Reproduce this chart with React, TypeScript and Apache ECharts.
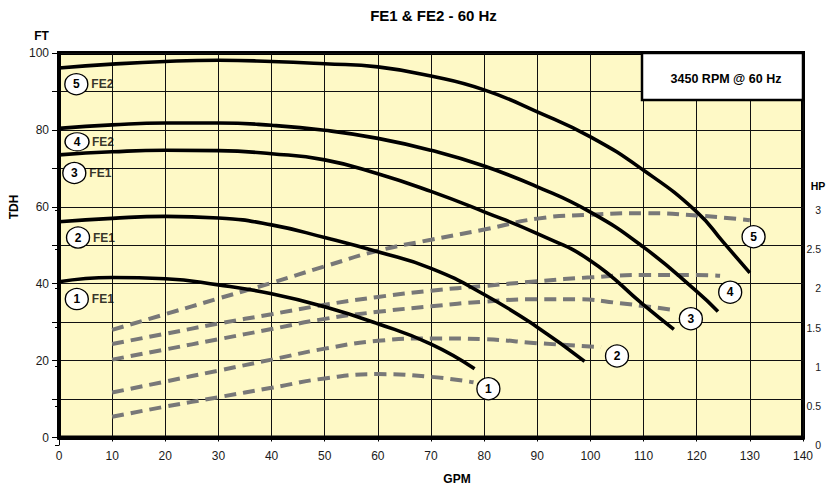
import React, { useEffect, useRef } from 'react';
import * as echarts from 'echarts';

const chartTitle = 'FE1 & FE2 - 60 Hz';
const speedNote = '3450 RPM @ 60 Hz';

// Head curves (GPM, FT)
const head1: [number, number][] = [[0, 40.5], [10, 41.6], [20, 41.3], [30, 39.7], [40, 37.4], [50, 34], [60, 29.6], [70, 24.3], [78.2, 17.9]];
const head2: [number, number][] = [[0, 56.1], [10, 57], [20, 57.5], [30, 57.1], [40, 55.3], [50, 52], [60, 48.3], [70, 44], [80, 37.2], [90, 28.7], [98.9, 19.8]];
const head3: [number, number][] = [[0, 73.5], [10, 74.3], [20, 74.7], [30, 74.6], [40, 73.8], [50, 72.2], [60, 68.6], [70, 64], [80, 58.7], [90, 53], [100, 46], [110, 34.5], [115.7, 28.1]];
const head4: [number, number][] = [[0, 80.4], [10, 81.3], [20, 81.8], [30, 81.8], [40, 81.2], [50, 79.9], [60, 77.8], [70, 74.7], [80, 70.6], [90, 65.2], [100, 58.6], [110, 49.5], [120, 38], [124, 32.8]];
const head5: [number, number][] = [[0, 96.1], [10, 97.1], [20, 97.8], [30, 98.1], [40, 97.8], [50, 97.2], [60, 96.4], [70, 94], [80, 90.4], [90, 84.7], [100, 78.2], [110, 69.5], [120, 58.7], [125, 50.8], [130, 42.8]];

// Power curves (GPM, HP)
const hp1: [number, number][] = [[10, 0.36], [20, 0.49], [30, 0.61], [40, 0.73], [50, 0.85], [60, 0.905], [70, 0.87], [78, 0.8]];
const hp2: [number, number][] = [[10, 0.67], [20, 0.81], [30, 0.95], [40, 1.09], [50, 1.23], [60, 1.33], [70, 1.36], [80, 1.35], [90, 1.3], [102, 1.25]];
const hp3: [number, number][] = [[10, 1.09], [20, 1.22], [30, 1.35], [40, 1.48], [50, 1.61], [60, 1.7], [70, 1.77], [80, 1.83], [90, 1.86], [97.5, 1.86], [105.6, 1.81], [115, 1.73]];
const hp4: [number, number][] = [[10, 1.29], [20, 1.42], [30, 1.55], [40, 1.67], [50, 1.79], [60, 1.89], [70, 1.97], [80, 2.03], [90, 2.09], [100, 2.14], [110, 2.17], [120, 2.17], [124.4, 2.16]];
const hp5: [number, number][] = [[10, 1.47], [20, 1.67], [30, 1.87], [40, 2.07], [50, 2.28], [60, 2.48], [70, 2.62], [80, 2.75], [90, 2.89], [100, 2.94], [110, 2.96], [120, 2.93], [130, 2.87]];

const curveNumbers = ['1', '2', '3', '4', '5'];
const models = ['FE1', 'FE1', 'FE1', 'FE2', 'FE2'];
// label anchors in chart units (GPM, FT)
const leftTagAt: [number, number][] = [[3.35, 36.0], [3.58, 52.0], [2.88, 68.8], [3.39, 76.9], [3.26, 91.9]];
const rightTagAt: [number, number][] = [[80.8, 12.7], [105.0, 21.2], [118.9, 30.9], [126.3, 37.8], [130.7, 52.2]];

const gpmMin = 0, gpmMax = 140, gpmStep = 10;
const ftMin = 0, ftMax = 100, ftStep = 10, ftLabelStep = 20;
const hpMin = 0, hpMax = 3, hpStep = 0.5;

const FONT = '"Liberation Sans", Arial, Helvetica, sans-serif';

export default function App() {
  const ref = useRef<HTMLDivElement>(null);
  useEffect(() => {
    if (!ref.current) return;
    const chart = echarts.init(ref.current, null, { renderer: 'svg' });
    const heads = [head1, head2, head3, head4, head5];
    const hps = [hp1, hp2, hp3, hp4, hp5];
    const headSeries = heads.map((d, i) => ({
      type: 'line', name: 'H' + curveNumbers[i], xAxisIndex: 0, yAxisIndex: 0,
      data: d, showSymbol: false, smooth: 0.5, z: 4,
      lineStyle: { color: '#000', width: 3.6 },
    }));
    const hpSeries = hps.map((d, i) => ({
      type: 'line', name: 'P' + curveNumbers[i], xAxisIndex: 1, yAxisIndex: 1,
      data: d, showSymbol: false, smooth: 0.5, z: 3,
      lineStyle: { color: '#787878', width: 4, type: [12, 7] },
    }));
    const circleData: any[] = [];
    leftTagAt.forEach((p, i) => circleData.push({ value: p, name: curveNumbers[i], symbolSize: curveNumbers[i] === '4' ? [24, 18] : [23, 21] }));
    rightTagAt.forEach((p, i) => circleData.push({ value: p, name: curveNumbers[i], symbolSize: [23, 22] }));

    chart.setOption({
      animation: false,
      grid: [
        { left: 59, right: 31, top: 53, bottom: 49.5, show: true, backgroundColor: '#FEF9C6', borderColor: '#000', borderWidth: 4 },
        { left: 59, right: 31, top: 210, bottom: 42, show: false },
      ],
      xAxis: [
        {
          type: 'value', gridIndex: 0, min: gpmMin, max: gpmMax, interval: gpmStep,
          axisLine: { show: true, lineStyle: { color: '#000', width: 4 } },
          axisTick: { show: true, length: 4, lineStyle: { color: '#000', width: 1 } },
          axisLabel: { color: '#1a1a1a', fontSize: 12, fontFamily: FONT, margin: 12 },
          splitLine: { show: true, lineStyle: { color: '#111', width: 1 } },
        },
        { type: 'value', gridIndex: 1, min: gpmMin, max: gpmMax, show: false },
      ],
      yAxis: [
        {
          type: 'value', gridIndex: 0, min: ftMin, max: ftMax, interval: ftStep,
          axisLine: { show: true, lineStyle: { color: '#000', width: 4 } },
          axisTick: { show: true, length: 7, lineStyle: { color: '#000', width: 1 } },
          axisLabel: { color: '#1a1a1a', fontSize: 12, fontFamily: FONT, margin: 10, formatter: (v: number) => (v % ftLabelStep === 0 ? String(v) : '') },
          splitLine: { show: true, lineStyle: { color: '#111', width: 1 } },
        },
        {
          type: 'value', gridIndex: 1, min: hpMin, max: hpMax, interval: hpStep, position: 'right', offset: 27,
          axisLine: { show: true, lineStyle: { color: '#000', width: 1 } },
          axisTick: { show: true, inside: true, length: 4, lineStyle: { color: '#000', width: 1 } },
          axisLabel: { inside: true, color: '#1a1a1a', fontSize: 10.5, fontFamily: FONT, margin: 9, formatter: (v: number) => String(v) },
          splitLine: { show: false },
        },
      ],
      series: [
        ...hpSeries,
        ...headSeries,
        {
          type: 'scatter', xAxisIndex: 0, yAxisIndex: 0, z: 10, symbol: 'circle',
          data: circleData,
          itemStyle: { color: '#fff', borderColor: '#000', borderWidth: 1.3, opacity: 1 },
          label: { show: true, position: 'inside', formatter: (p: any) => p.name, color: '#000', fontWeight: 'bold', fontSize: 12, fontFamily: FONT },
        },
        {
          type: 'scatter', xAxisIndex: 0, yAxisIndex: 0, z: 10, symbolSize: 0,
          data: leftTagAt.map((p, i) => ({ value: p, name: models[i] })),
          label: { show: true, position: 'right', distance: 15, formatter: (p: any) => p.name, color: '#000', fontWeight: 'bold', fontSize: 12, fontFamily: FONT },
        },
      ],
      graphic: [
        { type: 'text', x: 433.5, y: 15, style: { text: chartTitle, font: `bold 15px ${FONT}`, fill: '#000', align: 'center', verticalAlign: 'middle' } },
        { type: 'text', x: 41.5, y: 36, style: { text: 'FT', font: `bold 12px ${FONT}`, fill: '#000', align: 'center', verticalAlign: 'middle' } },
        { type: 'text', x: 14, y: 207, rotation: Math.PI / 2, style: { text: 'TDH', font: `bold 12px ${FONT}`, fill: '#000', align: 'center', verticalAlign: 'middle' } },
        { type: 'text', x: 457, y: 479, style: { text: 'GPM', font: `bold 12px ${FONT}`, fill: '#000', align: 'center', verticalAlign: 'middle' } },
        { type: 'text', x: 818, y: 186, style: { text: 'HP', font: `bold 10.5px ${FONT}`, fill: '#000', align: 'center', verticalAlign: 'middle' } },
        { type: 'rect', z: 100, shape: { x: 642, y: 53, width: 161, height: 47 }, style: { fill: '#fff', stroke: '#000', lineWidth: 2.5 } },
        { type: 'text', z: 101, x: 726, y: 79, style: { text: speedNote, font: `bold 12.5px ${FONT}`, fill: '#000', align: 'center', verticalAlign: 'middle' } },
      ],
    });
    return () => chart.dispose();
  }, []);
  return <div ref={ref} style={{ position: 'absolute', left: 0, top: 0, width: 834, height: 487 }} />;
}
